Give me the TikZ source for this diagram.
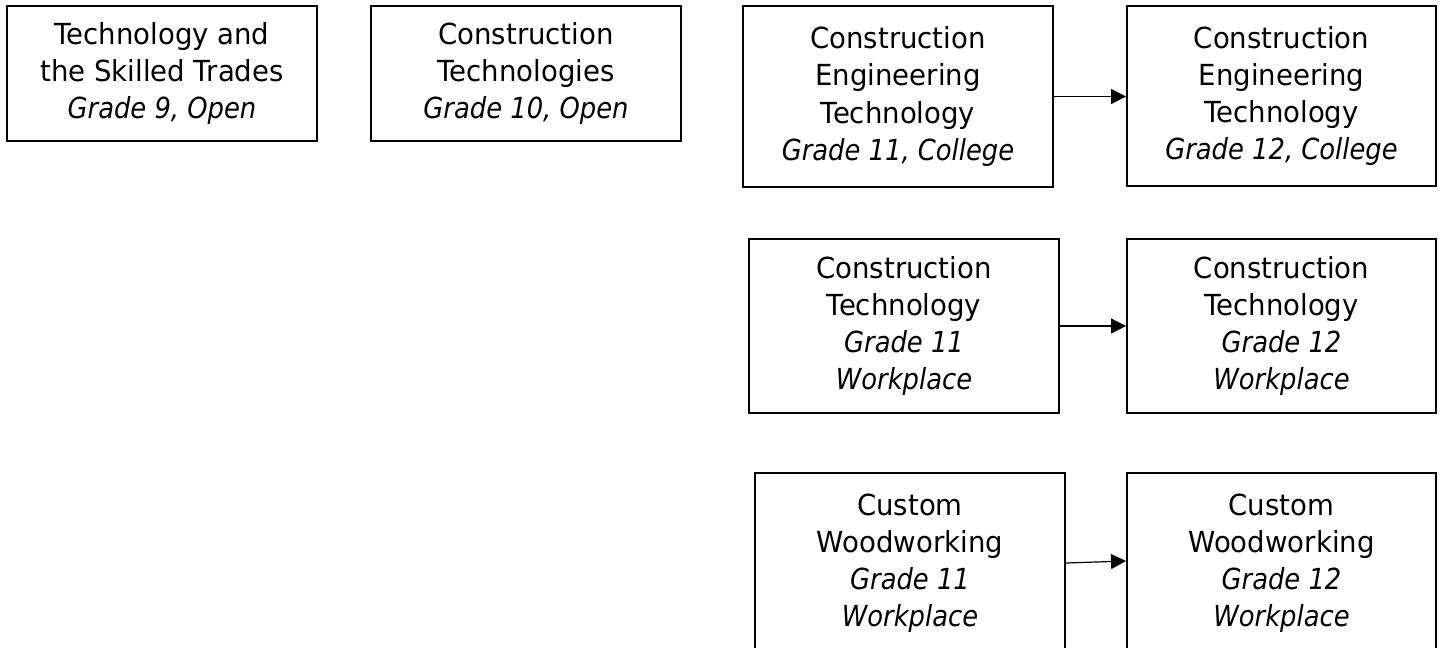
\documentclass[tikz,border=0pt]{standalone}
\usepackage{fontspec}
\setmainfont{DejaVu Sans}[FakeStretch=0.95,ItalicFeatures={FakeStretch=0.89}]
\usetikzlibrary{arrows.meta}
\begin{document}
\begin{tikzpicture}[x=0.5pt,y=-0.5pt,
  every node/.style={align=center,font=\fontsize{14.5}{18.5}\selectfont},
  curso/.style={draw,line width=1pt,inner sep=0pt,minimum width=155pt},
  flecha/.style={line width=0.6pt,-{Triangle[length=7.5pt,width=7.5pt]}}]
			\clip (0,0) rectangle (1443,647);
			% Grado 9 y 10
			\node[curso,minimum height=67.5pt] (tst9) at (162,73.5) {Technology and\\the Skilled Trades\\\textit{Grade 9, Open}};
			\node[curso,minimum height=67.5pt] (ct10) at (526,73.5) {Construction\\Technologies\\\textit{Grade 10, Open}};
			% College
			\node[curso,minimum height=90.5pt] (cet11) at (898,96.5) {Construction\\Engineering\\Technology\\\textit{Grade 11, College}};
			\node[curso,minimum height=90pt,minimum width=154.5pt] (cet12) at (1281.5,96) {Construction\\Engineering\\Technology\\\textit{Grade 12, College}};
			\draw[flecha] (cet11.east) -- (cet11.east -| cet12.west);
			% Workplace
			\node[curso,minimum height=87pt] (ctw11) at (904,326) {Construction\\Technology\\\textit{Grade 11}\\\textit{Workplace}};
			\node[curso,minimum height=87pt,minimum width=154.5pt] (ctw12) at (1281.5,326) {Construction\\Technology\\\textit{Grade 12}\\\textit{Workplace}};
			\draw[flecha] (ctw11) -- (ctw12);
			% Woodworking
			\node[curso,minimum height=90pt] (cw11) at (910,563) {Custom\\Woodworking\\\textit{Grade 11}\\\textit{Workplace}};
			\node[curso,minimum height=90pt,minimum width=154.5pt] (cw12) at (1281.5,563) {Custom\\Woodworking\\\textit{Grade 12}\\\textit{Workplace}};
			\draw[flecha] (cw11.east) -- ([yshift=1pt]cw12.west);
\end{tikzpicture}
\end{document}
